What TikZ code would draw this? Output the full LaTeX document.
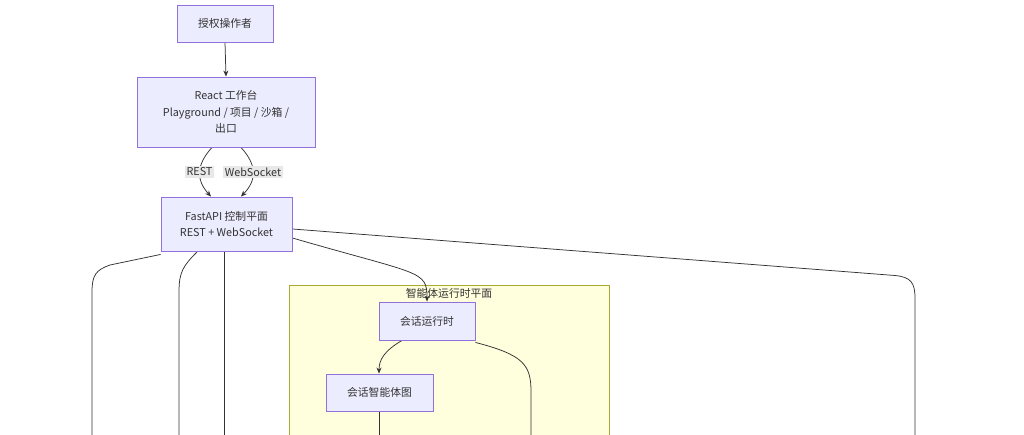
\documentclass[tikz,border=0pt]{standalone}
\usepackage{fontspec}
\setmainfont{Noto Sans CJK SC}
\usetikzlibrary{arrows.meta}
\pgfdeclarelayer{clusterlayer}
\pgfdeclarelayer{edgelayer}
\pgfsetlayers{clusterlayer,edgelayer,main}
\definecolor{nodefill}{HTML}{ECECFF}
\definecolor{nodeborder}{HTML}{9370DB}
\definecolor{clusterfill}{HTML}{FFFFDE}
\definecolor{clusterborder}{HTML}{AAAA33}
\definecolor{edgecol}{HTML}{333333}
\definecolor{labelbg}{HTML}{E8E8E8}
\definecolor{textcol}{HTML}{333333}
\tikzset{
  box/.style={draw=nodeborder, fill=nodefill, line width=0.9pt, inner sep=0pt, align=center,
    text=textcol, font=\fontsize{10.8}{16.5}\selectfont},
  edge/.style={draw=edgecol, line width=0.75pt},
  arr/.style={edge, -{Stealth[length=6pt,width=5pt]}},
  elabel/.style={fill=labelbg, inner sep=1.5pt, text=textcol, font=\fontsize{10.8}{13}\selectfont},
  cluster/.style={draw=clusterborder, fill=clusterfill, line width=0.8pt},
  ctitle/.style={text=textcol, font=\fontsize{10.8}{13}\selectfont, inner sep=0pt}
}
\begin{document}
\begin{tikzpicture}[x=1pt,y=-1pt]
\useasboundingbox (0,0) rectangle (1024,435);
\begin{pgfonlayer}{clusterlayer}
\fill[white] (0,0) rectangle (1024,435);
\draw[cluster] (289,285) rectangle (609,445);
\end{pgfonlayer}
\node[ctitle] (ctitle) at (449,293.5) {智能体运行时平面};
% nodes
\node[box, minimum width=96, minimum height=37] (op) at (225,23.5) {授权操作者};
\node[box, minimum width=178, minimum height=70] (ui) at (226,112) {React 工作台\\Playground / 项目 / 沙箱 /\\出口};
\node[box, minimum width=131, minimum height=54] (api) at (226.5,224) {FastAPI 控制平面\\REST + WebSocket};
\node[box, minimum width=96, minimum height=38] (rt) at (427,321) {会话运行时};
\node[box, minimum width=107, minimum height=37] (graph) at (379.5,392.5) {会话智能体图};
% free ends
\coordinate (eL1) at (92,445);
\coordinate (eL2) at (179,445);
\coordinate (eL3) at (224,445);
\coordinate (eR) at (915,445);
\coordinate (eRT) at (531,445);
\coordinate (eG) at (379,445);
% edges
\begin{pgfonlayer}{edgelayer}
\draw[arr] (op.south) -- (ui.north);
\draw[arr] ([xshift=-14]ui.south) .. controls (196,165) and (196,180) .. ([xshift=-15.5]api.north);
\draw[arr] ([xshift=15]ui.south) .. controls (257,165) and (257,180) .. ([xshift=14.5]api.north);
\draw[arr] ([yshift=-14]api.east) .. controls (420,275) and (427,270) .. (rt.north);
\draw[edge] ([yshift=-5]api.east) -- (895,275.5) .. controls (911,277) and (915,283) .. (915,298) -- (eR);
\draw[edge] ([yshift=-3]api.south west) -- (110,265) .. controls (96,270) and (92,275) .. (92,292) -- (eL1);
\draw[edge] ([xshift=-29]api.south) .. controls (183,266) and (179,272) .. (179,292) -- (eL2);
\draw[edge] ([xshift=-2.5]api.south) -- (eL3);
\draw[arr] ([xshift=-25]rt.south) .. controls (384,351) and (379,360) .. (graph.north -| 379,0);
\draw[edge] ([yshift=-2]rt.south east) .. controls (524,355) and (531,365) .. (531,392) -- (eRT);
\draw[edge] (graph.south -| 379,0) -- (eG);
\end{pgfonlayer}
% edge labels
\node[elabel] (lrest) at (199.5,172) {REST};
\node[elabel] (lws) at (253,172) {WebSocket};
\end{tikzpicture}
\end{document}
